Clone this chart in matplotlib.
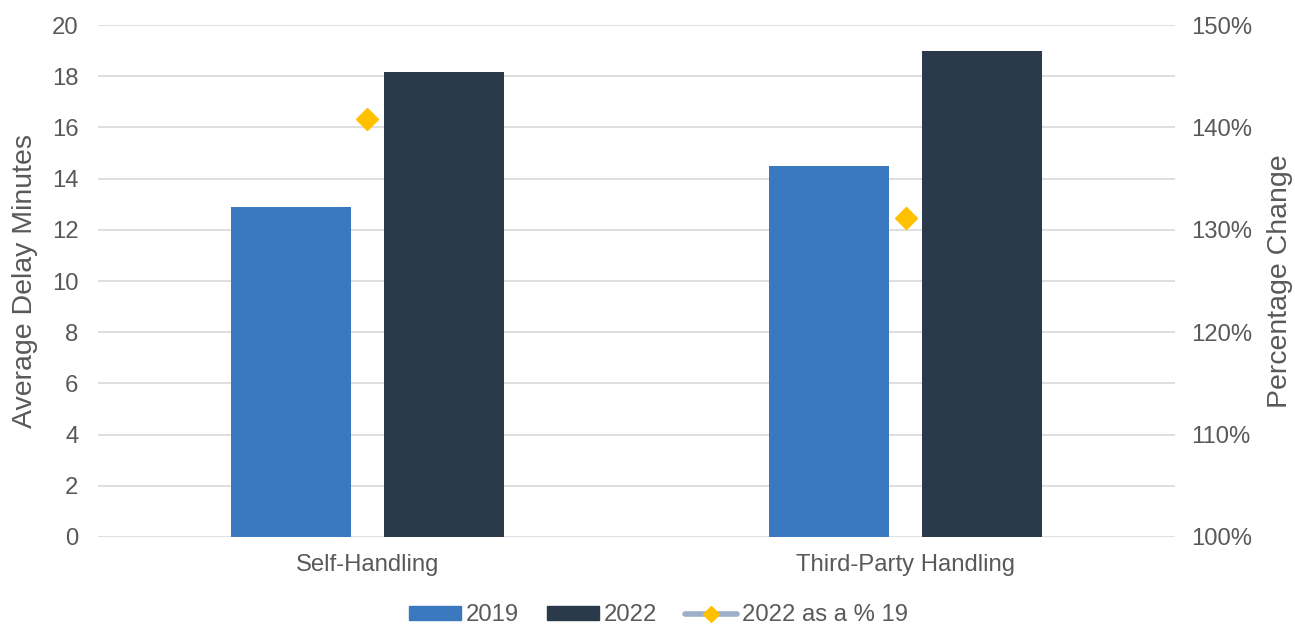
import matplotlib.pyplot as plt
import numpy as np
from matplotlib.lines import Line2D
from matplotlib.patches import Patch

plt.rcParams["font.family"] = ["Liberation Sans", "DejaVu Sans"]

# data
categories = ["Self-Handling", "Third-Party Handling"]
delay_2019 = [12.9, 14.5]
delay_2022 = [18.15, 19.0]
pct_of_2019 = [140.8, 131.2]

TEXT = "#595959"
C2019 = "#3A78BF"
C2022 = "#2B3A4A"
CPCT = "#FFC000"
FS = 17.2
FS_TITLE = 20.5

fig = plt.figure(figsize=(12.95, 6.26), dpi=100)
ax = fig.add_axes([0.0757, 0.1422, 0.8316, 0.8178])

x = np.arange(len(categories))
w = 0.223
off = 0.142
ax.bar(x - off, delay_2019, width=w, color=C2019, zorder=3)
ax.bar(x + off, delay_2022, width=w, color=C2022, zorder=3)

ax.set_xlim(-0.5, 1.5)
ax.set_ylim(0, 20)
ax.set_yticks(range(0, 21, 2))
ax.set_xticks(x)
ax.set_xticklabels(categories)
ax.grid(axis="y", color="#D9D9D9", linewidth=1.2, zorder=0)
ax.set_ylabel("Average Delay Minutes", fontsize=FS_TITLE, color=TEXT, labelpad=10)
ax.tick_params(axis="both", length=0, labelsize=FS, colors=TEXT)
ax.tick_params(axis="x", pad=12)
ax.tick_params(axis="y", pad=14)
for s in ax.spines.values():
    s.set_visible(False)

ax2 = ax.twinx()
ax2.plot(x, pct_of_2019, linestyle="none", marker="D", markersize=11,
         color=CPCT, zorder=4)
ax2.set_ylim(100, 150)
ax2.set_yticks(range(100, 151, 10))
ax2.set_yticklabels([f"{v}%" for v in range(100, 151, 10)])
ax2.set_ylabel("Percentage Change", fontsize=FS_TITLE, color=TEXT, labelpad=10)
ax2.tick_params(axis="y", length=0, labelsize=FS, colors=TEXT, pad=12)
for s in ax2.spines.values():
    s.set_visible(False)

handles = [
    Patch(color=C2019),
    Patch(color=C2022),
    Line2D([], [], color="#9BB0C8", linewidth=4, marker="D", markersize=8,
           markerfacecolor=CPCT, markeredgecolor=CPCT, solid_capstyle="round"),
]
fig.legend(handles, ["2019", "2022", "2022 as a % 19"], loc="center",
           bbox_to_anchor=(0.5085, 0.017), ncol=3, frameon=False, fontsize=FS,
           labelcolor=TEXT, handlelength=2.15, handleheight=0.5,
           handletextpad=0.2, columnspacing=1.2)

fig.savefig("out.png", dpi=100)
